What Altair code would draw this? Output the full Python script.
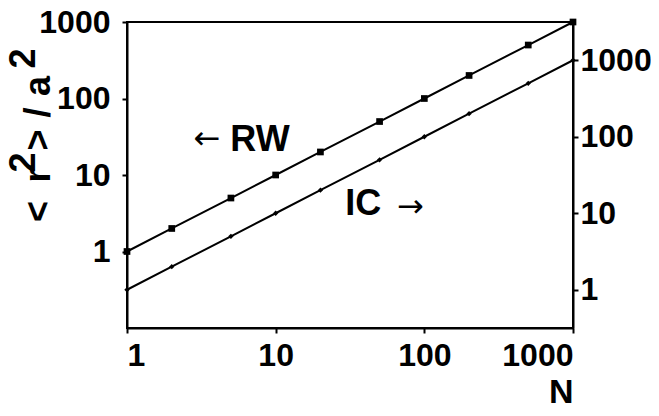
import altair as alt
import pandas as pd

# Data
N = [1, 2, 5, 10, 20, 50, 100, 200, 500, 1000]
RW = [1, 2, 5, 10, 20, 50, 100, 200, 500, 1000]      # left axis
IC = [1, 2, 5, 10, 20, 50, 100, 200, 500, 1000]      # right axis
tick_vals = [1, 10, 100, 1000]

# annotation anchors (data coordinates, left axis)
lab_N = [7.84, 38.9]
lab_y = [29.0, 4.2]
lab_text = ["RW", "IC"]
arr_N = [3.45, 80.7]
arr_y = [29.4, 3.84]
arr_text = ["\u2190", "\u2192"]

df = pd.DataFrame({"N": N, "RW": RW, "IC": IC})
df_lab = pd.DataFrame({"N": lab_N, "RW": lab_y, "t": lab_text})
df_arr = pd.DataFrame({"N": arr_N, "RW": arr_y, "t": arr_text})

FONT = "Liberation Sans"
WEIGHT = "bold"

x_enc = alt.X("N:Q",
              scale=alt.Scale(type="log", domain=[1, 1000], nice=False),
              axis=alt.Axis(values=tick_vals, title="N", titleAnchor="end",
                            labelPadding=7, titlePadding=4, format="d"))
left_scale = alt.Scale(type="log", domain=[0.1, 1000], nice=False)
right_scale = alt.Scale(type="log", domain=[10 ** -0.5, 10 ** 3.5], nice=False)
left_axis = alt.Axis(values=tick_vals, orient="left", title=None,
                     labelPadding=12, format="d")
right_axis = alt.Axis(values=tick_vals, orient="right", title=None,
                      labelPadding=2, format="d")

y_left = alt.Y("RW:Q", scale=left_scale, axis=left_axis)

rw_line = alt.Chart(df).mark_line(color="black", strokeWidth=2).encode(x=x_enc, y=y_left)
rw_pts = alt.Chart(df).mark_point(shape="square", filled=True, size=45,
                                  color="black", opacity=1).encode(x=x_enc, y=y_left)
labels = alt.Chart(df_lab).mark_text(font=FONT, fontSize=36, fontWeight=WEIGHT,
                                     color="black", align="center",
                                     baseline="middle").encode(
    x=x_enc, y=y_left, text="t:N")
arrows = alt.Chart(df_arr).mark_text(font="DejaVu Sans", fontSize=32, color="black",
                                     align="center", baseline="middle").encode(
    x=x_enc, y=y_left, text="t:N")

y_right = alt.Y("IC:Q", scale=right_scale, axis=right_axis)
ic_line = alt.Chart(df).mark_line(color="black", strokeWidth=2).encode(x=x_enc, y=y_right)
ic_pts = alt.Chart(df).mark_point(shape="diamond", filled=True, size=28,
                                  color="black", opacity=1).encode(x=x_enc, y=y_right)

# y title "< r2 > /a2" with raised full-size superscripts, built from pieces
one = pd.DataFrame({"a": [0]})
pieces = [
    ("<", -77, 189.5),
    ("r", -77, 153.5),
    ("2", -92, 140.5),
    (">", -77, 118),
    ("/", -77, 90.5),
    ("a", -77, 64),
    ("2", -92, 36.5),
]
title_layers = [
    alt.Chart(one).mark_text(font=FONT, fontSize=36, fontWeight=WEIGHT, color="black",
                             angle=270, align="center", baseline="alphabetic").encode(
        x=alt.value(px), y=alt.value(py), text=alt.value(t))
    for t, px, py in pieces
]

left_group = alt.layer(rw_line, rw_pts, labels, arrows, *title_layers)
right_group = alt.layer(ic_line, ic_pts)

chart = alt.layer(left_group, right_group).resolve_scale(y="independent").properties(
    width=446, height=306,
    padding={"left": 119, "top": 14, "right": 78, "bottom": 80},
    autosize="none",
).configure_view(stroke="black", strokeWidth=2).configure_axis(
    domainColor="black", domainWidth=2, tickColor="black", tickWidth=2, tickSize=5,
    labelFont=FONT, labelFontSize=32, labelFontWeight=WEIGHT, labelColor="black",
    grid=False,
    titleFont=FONT, titleFontSize=34, titleColor="black", titleFontWeight=WEIGHT,
)

chart.save("out.html", embed_options={"renderer": "svg", "actions": False})
